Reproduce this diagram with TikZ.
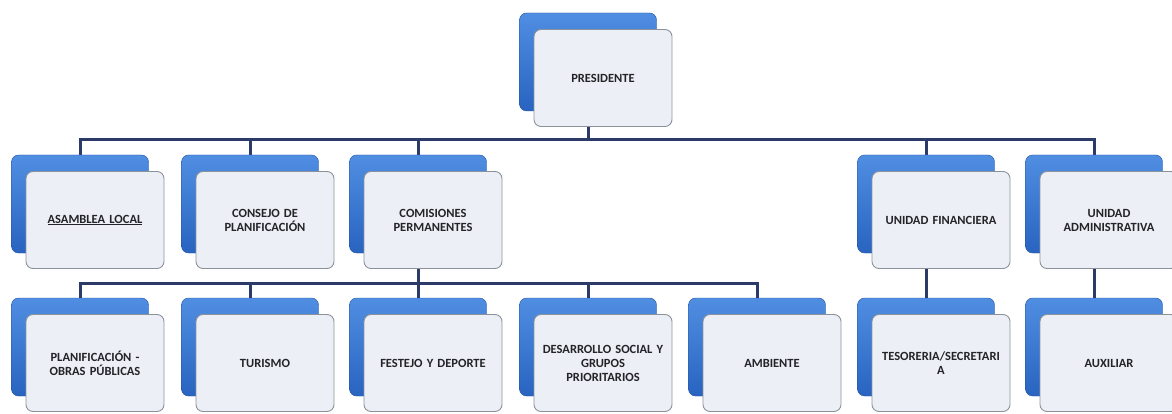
\documentclass[tikz,border=0pt]{standalone}
\usepackage{fontspec}
\setmainfont{Carlito}
\usetikzlibrary{backgrounds}

\definecolor{azulclaro}{RGB}{80,142,226}
\definecolor{azulcaja}{RGB}{40,100,192}
\definecolor{azulborde}{RGB}{34,80,156}
\definecolor{grisborde}{RGB}{140,146,156}
\definecolor{blancocaja}{RGB}{236,239,245}
\definecolor{azullinea}{RGB}{44,58,104}
\definecolor{textogris}{RGB}{35,35,40}

\tikzset{
  fondo/.style={draw=azulborde, top color=azulclaro, bottom color=azulcaja,
    rounded corners=7pt, minimum width=137pt, minimum height=98pt, inner sep=0pt},
  caja/.style={draw=grisborde, line width=0.9pt, fill=blancocaja, rounded corners=7pt,
    minimum width=138pt, minimum height=97pt, text width=132pt, align=center,
    inner sep=0pt, text=textogris, font=\bfseries\fontsize{12.5}{14}\selectfont},
  linea/.style={draw=azullinea, line width=3pt}
}

% caja azul de fondo y caja blanca con el texto
\newcommand{\unidad}[4]{%
  \node[fondo] (#1-b) at (#2,#3) {};
  \node[caja] (#1) at (#2+15,#3+16) {#4};
}

\begin{document}
\begin{tikzpicture}[x=1pt,y=-1pt]
  \useasboundingbox (0,0) rectangle (1172,414);

  % Presidente
  \unidad{pres}{588}{62}{PRESIDENTE}

  % Segundo nivel
  \unidad{asamblea}{80}{204}{\underline{ASAMBLEA LOCAL}}
  \unidad{consejo}{250}{204}{CONSEJO DE\\PLANIFICACIÓN}
  \unidad{comisiones}{418}{204}{COMISIONES\\PERMANENTES}
  \unidad{financiera}{926}{204}{UNIDAD FINANCIERA}
  \unidad{administrativa}{1094}{204}{UNIDAD\\ADMINISTRATIVA}

  % Tercer nivel
  \unidad{planificacion}{80}{347}{PLANIFICACIÓN -\\OBRAS PÚBLICAS}
  \unidad{turismo}{250}{347}{TURISMO}
  \unidad{festejo}{418}{347}{FESTEJO Y DEPORTE}
  \unidad{desarrollo}{588}{347}{DESARROLLO SOCIAL Y\\GRUPOS\\PRIORITARIOS}
  \unidad{ambiente}{757}{347}{AMBIENTE}
  \unidad{tesoreria}{926}{347}{TESORERIA/SECRETARI\\A}
  \unidad{auxiliar}{1094}{347}{AUXILIAR}

  % Lineas de conexion
  \begin{pgfonlayer}{background}
    \coordinate (bus1) at (588,140);
    \coordinate (bus2) at (418,283);
    \draw[linea] (pres-b.center) -- (bus1);
    \foreach \n in {asamblea,consejo,comisiones,financiera,administrativa}
      \draw[linea] (bus1) -| (\n-b.north);
    \draw[linea] (comisiones-b.center) -- (bus2);
    \foreach \n in {planificacion,turismo,festejo,desarrollo,ambiente}
      \draw[linea] (bus2) -| (\n-b.north);
    \draw[linea] (financiera-b) -- (tesoreria-b);
    \draw[linea] (administrativa-b) -- (auxiliar-b);
  \end{pgfonlayer}
\end{tikzpicture}
\end{document}
